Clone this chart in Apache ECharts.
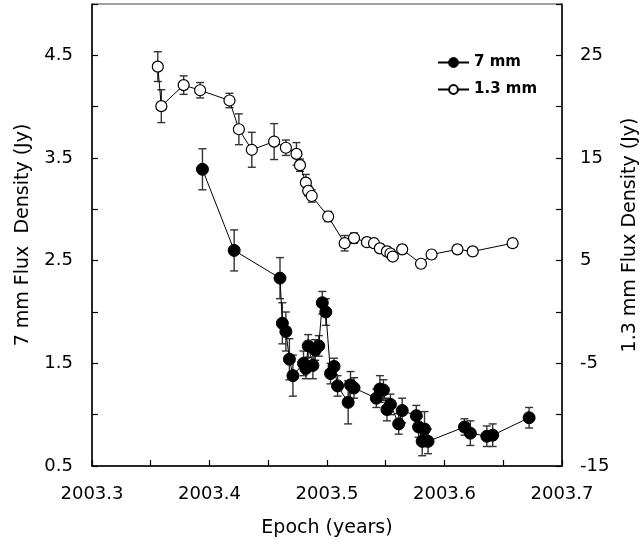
<!DOCTYPE html>
<html>
<head>
<meta charset="utf-8">
<script src="https://cdn.jsdelivr.net/npm/echarts@6/dist/echarts.min.js"></script>
<style>
  html, body { margin: 0; padding: 0; background: #fff; }
  #grafico { width: 643px; height: 552px; }
</style>
</head>
<body>
<div id="grafico"></div>
<script>
// 7 mm (left axis)
var epoca7 = [2003.394, 2003.421, 2003.460, 2003.462, 2003.465, 2003.468, 2003.471, 2003.480, 2003.482, 2003.484,
              2003.488, 2003.490, 2003.493, 2003.496, 2003.499, 2003.503, 2003.506, 2003.509, 2003.518, 2003.520,
              2003.523, 2003.542, 2003.545, 2003.548, 2003.551, 2003.554, 2003.561, 2003.564, 2003.576, 2003.578,
              2003.581, 2003.583, 2003.586, 2003.617, 2003.622, 2003.636, 2003.641, 2003.672];
var fluxo7 = [3.39, 2.60, 2.33, 1.89, 1.81, 1.54, 1.38, 1.50, 1.45, 1.67,
              1.48, 1.63, 1.67, 2.09, 2.00, 1.40, 1.47, 1.28, 1.12, 1.29,
              1.26, 1.16, 1.25, 1.24, 1.05, 1.10, 0.91, 1.04, 0.99, 0.88,
              0.74, 0.86, 0.74, 0.88, 0.82, 0.79, 0.80, 0.97];
var erro7 = [0.20, 0.20, 0.20, 0.20, 0.19, 0.20, 0.20, 0.12, 0.10, 0.11,
             0.13, 0.10, 0.10, 0.11, 0.13, 0.10, 0.08, 0.10, 0.21, 0.13,
             0.10, 0.09, 0.13, 0.10, 0.11, 0.10, 0.10, 0.12, 0.10, 0.10,
             0.14, 0.17, 0.12, 0.08, 0.12, 0.10, 0.11, 0.10];

// 1.3 mm (right axis)
var epoca13 = [2003.356, 2003.359, 2003.378, 2003.392, 2003.417, 2003.425, 2003.436, 2003.455, 2003.465, 2003.474,
               2003.477, 2003.482, 2003.484, 2003.487, 2003.501, 2003.515, 2003.523, 2003.534, 2003.540, 2003.545,
               2003.551, 2003.554, 2003.556, 2003.564, 2003.580, 2003.589, 2003.611, 2003.624, 2003.658];
var fluxo13 = [23.9, 20.05, 22.1, 21.6, 20.6, 17.8, 15.8, 16.6, 16.0, 15.4,
               14.3, 12.6, 11.8, 11.3, 9.3, 6.7, 7.2, 6.8, 6.7, 6.2,
               5.9, 5.7, 5.4, 6.1, 4.7, 5.6, 6.1, 5.9, 6.7];
var erro13 = [1.45, 1.6, 0.9, 0.75, 0.7, 1.5, 1.7, 1.75, 0.75, 1.1,
              0.6, 0.8, 0.5, 0.6, 0.5, 0.75, 0.5, 0.4, 0.4, 0.4,
              0.4, 0.4, 0.4, 0.4, 0.4, 0.4, 0.4, 0.4, 0.4];

var fonte = 'DejaVu Sans';

function pares(x, y) {
    return x.map(function (v, i) { return [v, y[i]]; });
}

function barras(x, y, e) {
    return x.map(function (v, i) { return [v, y[i] - e[i], y[i] + e[i]]; });
}

function desenharErro(params, api) {
    var baixo = api.coord([api.value(0), api.value(1)]);
    var alto = api.coord([api.value(0), api.value(2)]);
    var w = 4;
    var estilo = { stroke: '#333', lineWidth: 1.4 };
    return {
        type: 'group',
        children: [
            { type: 'line', shape: { x1: baixo[0], y1: baixo[1], x2: alto[0], y2: alto[1] }, style: estilo },
            { type: 'line', shape: { x1: baixo[0] - w, y1: baixo[1], x2: baixo[0] + w, y2: baixo[1] }, style: estilo },
            { type: 'line', shape: { x1: alto[0] - w, y1: alto[1], x2: alto[0] + w, y2: alto[1] }, style: estilo }
        ]
    };
}

var eixoLinha = { show: true, onZero: false, lineStyle: { color: '#000', width: 1.5 } };
var eixoTick = { show: true, inside: true, length: 6, lineStyle: { color: '#000', width: 1.2 } };

var dom = document.getElementById('grafico');
var chart = echarts.init(dom, null, { renderer: 'canvas' });

chart.setOption({
    animation: false,
    textStyle: { fontFamily: fonte },
    grid: {
        left: 92,
        right: 81,
        top: 4,
        bottom: 86,
        outerBoundsMode: 'none',
        show: true,
        borderColor: '#444',
        borderWidth: 1
    },
    legend: {
        orient: 'vertical',
        left: 432,
        top: 50,
        itemWidth: 31,
        itemHeight: 11,
        itemGap: 12,
        textStyle: { fontFamily: fonte, fontWeight: 'bold', fontSize: 15, color: '#000' },
        data: ['7 mm', '1.3 mm']
    },
    xAxis: {
        type: 'value',
        min: 2003.3,
        max: 2003.7,
        interval: 0.05,
        name: 'Epoch (years)',
        nameLocation: 'middle',
        nameGap: 53,
        nameTextStyle: { fontFamily: fonte, fontSize: 19, color: '#000' },
        axisLine: eixoLinha,
        axisTick: eixoTick,
        splitLine: { show: false },
        axisLabel: {
            fontFamily: fonte,
            fontSize: 18,
            color: '#000',
            margin: 19,
            formatter: function (v) {
                return Math.round(v * 20) % 2 === 0 ? v.toFixed(1) : '';
            }
        }
    },
    yAxis: [
        {
            type: 'value',
            min: 0.5,
            max: 5,
            interval: 0.5,
            name: '7 mm Flux  Density (Jy)',
            nameLocation: 'middle',
            nameGap: 59,
            nameTextStyle: { fontFamily: fonte, fontSize: 19, color: '#000' },
            axisLine: eixoLinha,
            axisTick: eixoTick,
            splitLine: { show: false },
            axisLabel: {
                fontFamily: fonte,
                fontSize: 18,
                color: '#000',
                margin: 19,
                formatter: function (v) {
                    return Math.round(v * 2) % 2 === 1 ? v.toFixed(1) : '';
                }
            }
        },
        {
            type: 'value',
            position: 'right',
            min: -15,
            max: 30,
            interval: 5,
            name: '1.3 mm Flux Density (Jy)',
            nameLocation: 'middle',
            nameGap: 55,
            nameTextStyle: { fontFamily: fonte, fontSize: 19, color: '#000' },
            axisLine: eixoLinha,
            axisTick: eixoTick,
            splitLine: { show: false },
            axisLabel: {
                fontFamily: fonte,
                fontSize: 18,
                color: '#000',
                margin: 18,
                formatter: function (v) {
                    return Math.round(v) % 10 !== 0 ? String(v) : '';
                }
            }
        }
    ],
    series: [
        {
            name: 'erro7',
            type: 'custom',
            yAxisIndex: 0,
            renderItem: desenharErro,
            encode: { x: 0, y: [1, 2] },
            data: barras(epoca7, fluxo7, erro7),
            z: 1
        },
        {
            name: 'erro13',
            type: 'custom',
            yAxisIndex: 1,
            renderItem: desenharErro,
            encode: { x: 0, y: [1, 2] },
            data: barras(epoca13, fluxo13, erro13),
            z: 1
        },
        {
            name: '7 mm',
            type: 'line',
            yAxisIndex: 0,
            symbol: 'circle',
            symbolSize: 12,
            showAllSymbol: true,
            color: '#000',
            itemStyle: { color: '#000', borderColor: '#000', borderWidth: 1 },
            lineStyle: { color: '#000', width: 1 },
            data: pares(epoca7, fluxo7),
            z: 3
        },
        {
            name: '1.3 mm',
            type: 'line',
            yAxisIndex: 1,
            symbol: 'circle',
            symbolSize: 11,
            showAllSymbol: true,
            color: '#000',
            itemStyle: { color: '#fff', borderColor: '#000', borderWidth: 1.2 },
            lineStyle: { color: '#000', width: 1 },
            data: pares(epoca13, fluxo13),
            z: 3
        }
    ]
});

window.addEventListener('resize', chart.resize);
</script>
</body>
</html>
